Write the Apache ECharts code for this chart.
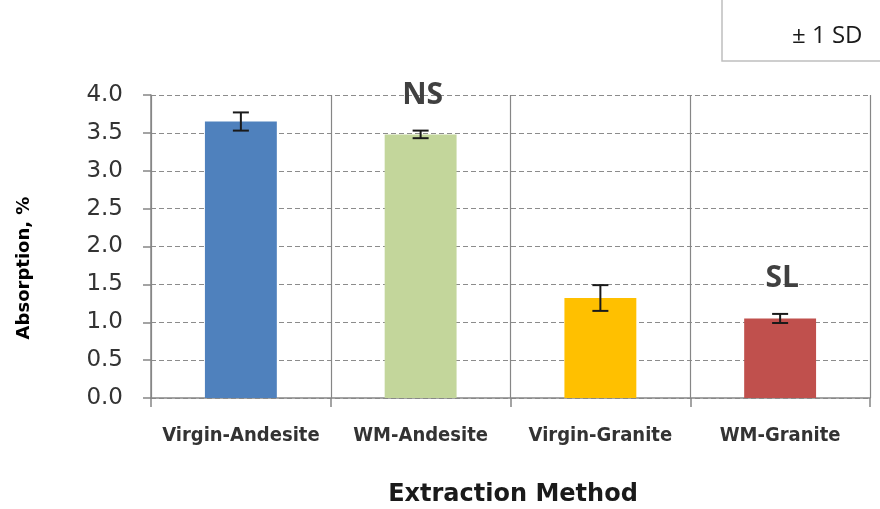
<!DOCTYPE html>
<html>
<head>
<meta charset="utf-8">
<script src="https://cdn.jsdelivr.net/npm/echarts@6/dist/echarts.min.js"></script>
<style>
  html, body { margin: 0; padding: 0; background: #fff; }
  #chart { width: 880px; height: 509px; }
</style>
</head>
<body>
<div id="chart"></div>
<script>
// Absorption by extraction method, mean ± 1 SD
const categories = ['Virgin-Andesite', 'WM-Andesite', 'Virgin-Granite', 'WM-Granite'];
const means = [3.65, 3.48, 1.32, 1.05];
const sds = [0.12, 0.05, 0.17, 0.06];
const sigLabels = ['', 'NS', '', 'SL'];
const barColors = ['#4F81BD', '#C3D69B', '#FFC000', '#C0504D'];
const yTicks = { min: 0, max: 4, interval: 0.5 };

const chart = echarts.init(document.getElementById('chart'), null, { renderer: 'canvas' });

const errorData = means.map((m, i) => [i, m, sds[i], sigLabels[i]]);

chart.setOption({
  animation: false,
  grid: { left: 151, right: 10, top: 95, bottom: 111 },
  xAxis: {
    type: 'category',
    data: categories,
    boundaryGap: true,
    axisLine: { lineStyle: { color: '#868686', width: 1.5 } },
    axisTick: { show: true, interval: 0, length: 9, lineStyle: { color: '#868686', width: 1.5 } },
    splitLine: { show: true, interval: 0, lineStyle: { color: '#868686', width: 1.2 } },
    axisLabel: {
      interval: 0,
      margin: 28,
      fontFamily: '"DejaVu Sans Condensed", "Liberation Sans Narrow", "Liberation Sans", sans-serif',
      fontWeight: 'bold',
      fontSize: 20,
      color: '#333'
    }
  },
  yAxis: {
    type: 'value',
    min: yTicks.min,
    max: yTicks.max,
    interval: yTicks.interval,
    axisLine: { show: true, lineStyle: { color: '#868686', width: 1.5 } },
    axisTick: { show: true, length: 8, lineStyle: { color: '#868686', width: 1.5 } },
    splitLine: { show: true, lineStyle: { color: '#8c8c8c', type: [5, 3], width: 1 } },
    axisLabel: {
      margin: 28,
      formatter: v => v.toFixed(1),
      fontFamily: '"DejaVu Sans", sans-serif',
      fontSize: 23,
      color: '#333'
    }
  },
  series: [
    {
      type: 'bar',
      barWidth: '40%',
      data: means.map((v, i) => ({ value: v, itemStyle: { color: barColors[i] } })),
      z: 2
    },
    {
      type: 'custom',
      z: 5,
      data: errorData,
      renderItem: function (params, api) {
        const i = api.value(0);
        const m = api.value(1);
        const sd = api.value(2);
        const lab = sigLabels[i];
        const hi = api.coord([i, m + sd]);
        const lo = api.coord([i, m - sd]);
        const cap = 8;
        const style = { stroke: '#1a1a1a', lineWidth: 2 };
        const children = [
          { type: 'line', shape: { x1: hi[0], y1: hi[1], x2: lo[0], y2: lo[1] }, style },
          { type: 'line', shape: { x1: hi[0] - cap, y1: hi[1], x2: hi[0] + cap, y2: hi[1] }, style },
          { type: 'line', shape: { x1: lo[0] - cap, y1: lo[1], x2: lo[0] + cap, y2: lo[1] }, style }
        ];
        if (lab) {
          children.push({
            type: 'text',
            style: {
              text: lab,
              x: hi[0] + 2,
              y: hi[1] - 35,
              align: 'center',
              verticalAlign: 'middle',
              font: 'bold 30px "Open Sans", sans-serif',
              fill: '#404040'
            }
          });
        }
        return { type: 'group', children };
      }
    }
  ],
  graphic: [
    {
      type: 'text',
      style: {
        text: 'Absorption, %',
        font: 'bold 18px "DejaVu Sans", sans-serif',
        fill: '#000',
        align: 'center',
        verticalAlign: 'middle'
      },
      x: 24, y: 268, rotation: Math.PI / 2
    },
    {
      type: 'text',
      style: {
        text: 'Extraction Method',
        font: 'bold 24px "DejaVu Sans", sans-serif',
        fill: '#1a1a1a',
        align: 'center',
        verticalAlign: 'middle'
      },
      x: 513, y: 495
    },
    {
      type: 'rect',
      shape: { x: 722, y: -5, width: 170, height: 66 },
      style: { fill: '#fff', stroke: '#bfbfbf', lineWidth: 1.5 }
    },
    {
      type: 'text',
      style: {
        text: '± 1 SD',
        font: '24px "Open Sans", sans-serif',
        fill: '#1a1a1a',
        align: 'left',
        verticalAlign: 'middle'
      },
      x: 792, y: 36
    }
  ]
});
</script>
</body>
</html>
